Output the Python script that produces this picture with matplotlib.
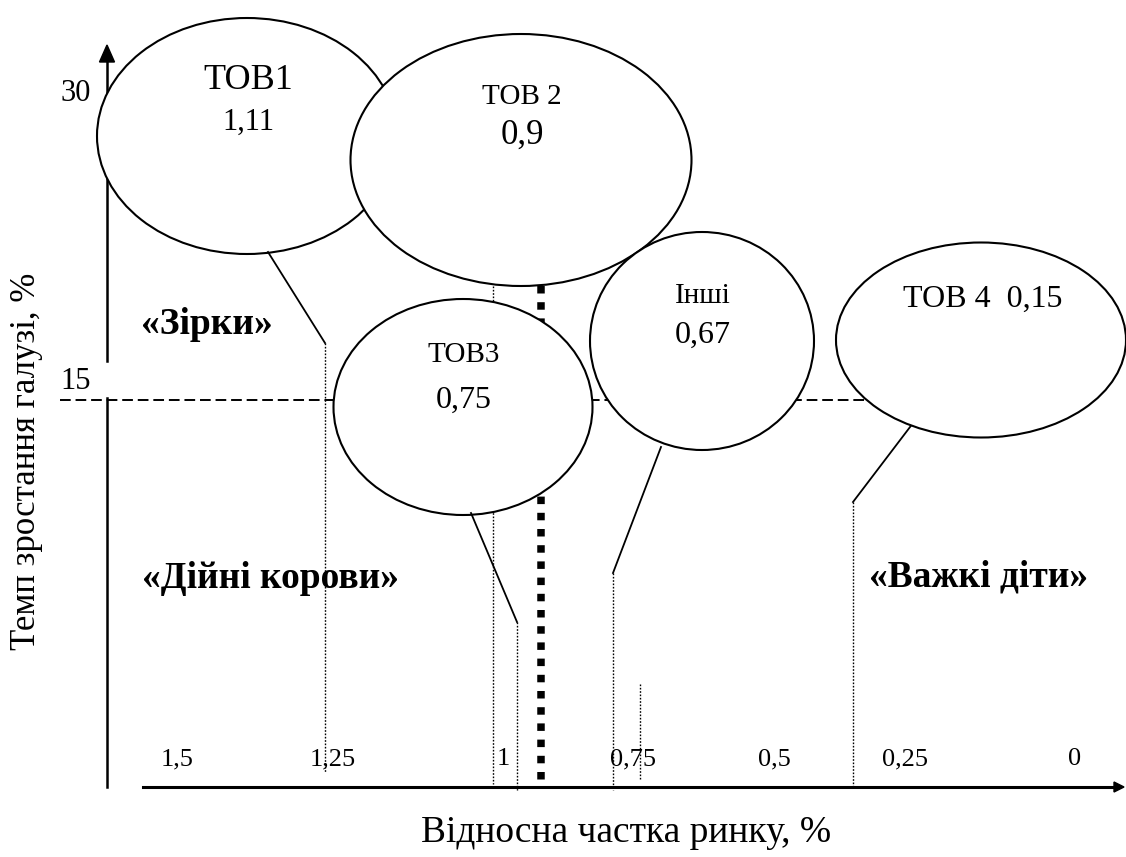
import matplotlib
matplotlib.use('Agg')
import matplotlib.pyplot as plt
from matplotlib.patches import Ellipse

# values shown on the chart
companies = ['ТОВ1', 'ТОВ 2', 'ТОВ3', 'Інші', 'ТОВ 4']
shares = ['1,11', '0,9', '0,75', '0,67', '0,15']
x_ticks = ['1,5', '1,25', '1', '0,75', '0,5', '0,25', '0']
y_ticks = ['30', '15']
quadrants = ['«Зірки»', '«Дійні корови»', '«Важкі діти»']
x_title = 'Відносна частка ринку, %'
y_title = 'Темп зростання галузі, %'

# layout of the scheme (diagram units, y grows downward)
bub_x = [247, 521, 463, 702, 981]
bub_y = [136, 160, 407, 341, 340]
bub_w = [300, 341, 259, 224, 290]
bub_h = [236, 252, 216, 218, 195]
name_y = [80, 97, 355, 296, 299]
val_y = [122, 135, 400, 335, 299]
name_fs = [26, 21, 21, 21, 23]
val_fs = [22, 25, 23, 23, 23]

xtick_x = [177, 333, 503, 633, 774, 905, 1075]
ytick_y = [93, 381]
quad_xy = [(207, 325), (270, 578), (979, 577)]

# leader lines: (start, bend, bottom of dotted part)
leaders = [((268, 252), (325, 343), 772),
           ((471, 513), (517, 622), 790),
           ((661, 447), (613, 573), 790),
           ((926, 406), (853, 502), 787)]
extra_dotted = [(493, 286, 784), (640, 684, 779)]

axis_y = 787
axis_x = 107

plt.rcParams['font.family'] = ['Liberation Serif', 'DejaVu Serif']

fig = plt.figure(figsize=(11.26, 8.57), dpi=100)
ax = fig.add_axes([0, 0, 1, 1])
ax.set_xlim(0, 1126)
ax.set_ylim(857, 0)
ax.axis('off')

# axes of the matrix
ax.plot([axis_x, axis_x], [axis_y, 398], color='k', lw=1.8, zorder=1)
ax.plot([axis_x, axis_x], [361, 60], color='k', lw=1.8, zorder=1)
ax.fill([axis_x - 7.5, axis_x, axis_x + 7.5], [62, 45, 62], color='k', zorder=1)
ax.plot([143, 1116], [axis_y, axis_y], color='k', lw=2.2, zorder=1)
ax.fill([1114, 1124, 1114], [782, axis_y, 792], color='k', zorder=1)

# 15 % split and market share split
ax.plot([60, 880], [400, 400], color='k', lw=1.4, ls=(0, (5.5, 2.5)), zorder=1)
ax.plot([541, 541], [286, axis_y], color='k', lw=5.4, ls=(0, (1, 1.16)), zorder=1)

for x, y0, y1 in extra_dotted:
    ax.plot([x, x], [y0, y1], color='k', lw=1.0, ls=(0, (1.2, 1.2)), zorder=1)

for (p0, p1, yb) in leaders:
    ax.plot([p0[0], p1[0]], [p0[1], p1[1]], color='k', lw=1.3, zorder=6)
    ax.plot([p1[0], p1[0]], [p1[1], yb], color='k', lw=1.0, ls=(0, (1.2, 1.2)), zorder=1)

# bubbles
for i in range(len(companies)):
    e = Ellipse((bub_x[i], bub_y[i]), bub_w[i], bub_h[i], facecolor='white',
                edgecolor='k', lw=1.5, zorder=2 + i)
    ax.add_patch(e)
    if name_y[i] == val_y[i]:
        ax.text(bub_x[i] + 2, name_y[i], companies[i] + '  ' + shares[i],
                fontsize=name_fs[i], ha='center', va='center', zorder=10)
    else:
        ax.text(bub_x[i] + 1, name_y[i], companies[i], fontsize=name_fs[i],
                ha='center', va='center', zorder=10)
        ax.text(bub_x[i] + 1, val_y[i], shares[i], fontsize=val_fs[i],
                ha='center', va='center', zorder=10)

for lab, x in zip(x_ticks, xtick_x):
    ax.text(x, 759, lab, fontsize=19, ha='center', va='center')
for lab, y in zip(y_ticks, ytick_y):
    ax.text(76, y, lab, fontsize=22, ha='center', va='center')

for lab, (x, y) in zip(quadrants, quad_xy):
    ax.text(x, y, lab, fontsize=27, fontweight='bold', ha='center', va='center', zorder=10)

ax.text(626, 833, x_title, fontsize=27, ha='center', va='center')
ax.text(27, 461, y_title, fontsize=25, ha='center', va='center', rotation=90)

fig.savefig('out.png', dpi=100)
